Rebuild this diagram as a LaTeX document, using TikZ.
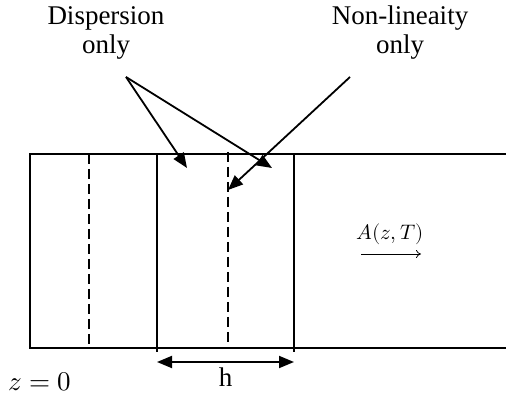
\documentclass[tikz,border=0pt]{standalone}
\usepackage{unicode-math}
\setmainfont{Liberation Serif}
\setmathfont{Latin Modern Math}
\usetikzlibrary{arrows.meta,positioning}

\begin{document}
\begin{tikzpicture}[
  x=1pt, y=-1pt,
  wall/.style={line width=1.8pt},
  split/.style={line width=1.8pt, dash pattern=on 10pt off 5pt},
  lbl/.style={align=center, font=\fontsize{27}{29}\selectfont},
  pointer/.style={line width=1.8pt, -{Triangle[length=15pt,width=12pt]}},
  span/.style={line width=1.8pt, {Triangle[length=15pt,width=12pt]}-{Triangle[length=15pt,width=12pt]}},
  >=Stealth
]
  \useasboundingbox (0,0) rectangle (506,403);

  % fibre and steps
  \draw[wall] (506,154) -- (30,154) -- (30,348) -- (506,348);
  \draw[wall] (157,154) -- (157,352);
  \draw[wall] (294,154) -- (294,352);
  \draw[split] (89,154) -- (89,345);
  \draw[split] (228,152) -- (228,343);

  % labels
  \node[lbl] (disp) at (106,33) {Dispersion\\only};
  \node[lbl] (nonlin) at (400,33) {Non-lineaity\\only};
  \node[font=\fontsize{27}{30}\selectfont] (z0) at (40,382) {$z=0$};
  \node[font=\fontsize{21}{24}\selectfont] (amp) at (390,234) {$A(z,T)$};

  \coordinate (dtail) at (126,77);
  \coordinate (dtip1) at (187,168);
  \coordinate (dtip2) at (272,168);
  \coordinate (ntail) at (350,77);
  \coordinate (ntip) at (228,190);
  \coordinate (h1) at (157,362);
  \coordinate (h2) at (294,362);
  \coordinate (a1) at (361,254);
  \coordinate (a2) at (421,254);

  \draw[pointer] (dtail) -- (dtip1);
  \draw[pointer] (dtail) -- (dtip2);
  \draw[pointer] (ntail) -- (ntip);
  \draw[span] (h1) -- node[below=2pt, font=\fontsize{27}{30}\selectfont] (hlbl) {h} (h2);
  \draw[line width=0.8pt, -{To[length=5pt,width=8pt]}] (a1) -- (a2);
\end{tikzpicture}
\end{document}
